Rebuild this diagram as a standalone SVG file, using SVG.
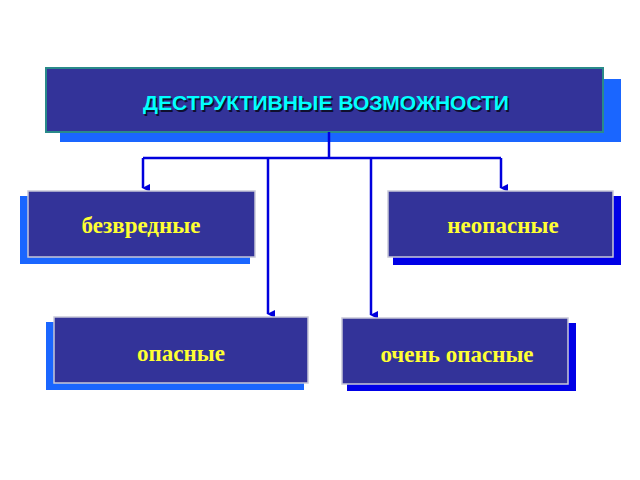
<svg xmlns="http://www.w3.org/2000/svg" width="640" height="480" viewBox="0 0 640 480">
<style>
.box{fill:#333399;stroke:#c8c8d8;stroke-width:1.5}
.shL{fill:#1a66ff}
.shR{fill:#0000e6}
.t{font-family:"Liberation Serif",serif;font-weight:bold;font-size:23px;fill:#ffff33;text-anchor:middle}
.c{stroke:#0000dd;stroke-width:2.5;fill:none}
</style>
<defs><marker id="a" markerWidth="8" markerHeight="8" refX="4" refY="7" orient="auto-start-reverse" markerUnits="userSpaceOnUse" viewBox="0 0 8 8"><path d="M0,0 L8,0 L4,8z" fill="#0000dd" transform="rotate(0)"/></marker></defs>
<rect width="640" height="480" fill="#fff"/>
<g id="title">
<rect x="60" y="79" width="561" height="63" class="shL"/>
<rect x="46" y="68" width="557" height="64" fill="#333399" stroke="#2a8a8a" stroke-width="2"/>
<text x="326" y="110" font-family="Liberation Sans,sans-serif" font-weight="bold" font-size="21" fill="#000" text-anchor="middle" opacity="0.7" transform="translate(1.5,1.5)">ДЕСТРУКТИВНЫЕ ВОЗМОЖНОСТИ</text>
<text x="326" y="110" font-family="Liberation Sans,sans-serif" font-weight="bold" font-size="21" fill="#00ffff" text-anchor="middle">ДЕСТРУКТИВНЫЕ ВОЗМОЖНОСТИ</text>
</g>
<g id="connectors">
<path class="c" d="M329,132 V158 M143,158 H501"/>
<path class="c" d="M143,158 V188" marker-end="url(#a)"/>
<path class="c" d="M501,158 V188" marker-end="url(#a)"/>
<path class="c" d="M268,158 V314" marker-end="url(#a)"/>
<path class="c" d="M371,158 V315" marker-end="url(#a)"/>
</g>
<g id="n1">
<rect x="20" y="196" width="230" height="68" class="shL"/>
<rect x="28" y="191" width="227" height="66" class="box"/>
<text x="141" y="233" class="t">безвредные</text>
</g>
<g id="n2">
<rect x="393" y="196" width="228" height="69" class="shR"/>
<rect x="388" y="191" width="225" height="66" class="box"/>
<text x="503" y="233" class="t">неопасные</text>
</g>
<g id="n3">
<rect x="46" y="322" width="258" height="68" class="shL"/>
<rect x="54" y="317" width="254" height="66" class="box"/>
<text x="181" y="361" class="t">опасные</text>
</g>
<g id="n4">
<rect x="347" y="323" width="229" height="68" class="shR"/>
<rect x="342" y="318" width="226" height="66" class="box"/>
<text x="457" y="362" class="t">очень опасные</text>
</g>
</svg>
